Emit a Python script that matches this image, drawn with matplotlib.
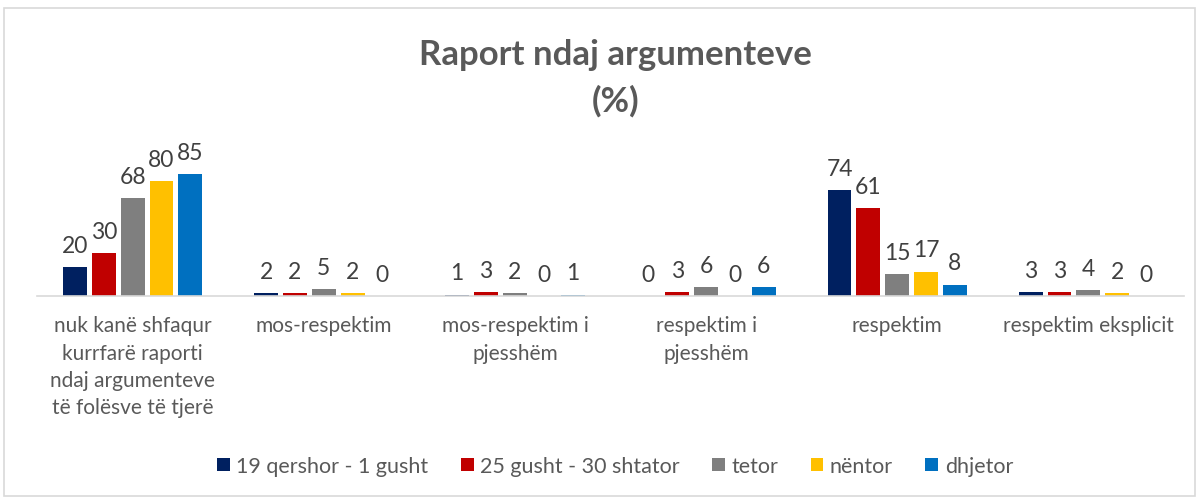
import matplotlib
matplotlib.use("Agg")
import matplotlib.pyplot as plt
import numpy as np
from matplotlib.patches import Rectangle

categories = ["nuk kanë shfaqur\nkurrfarë raporti\nndaj argumenteve\ntë folësve të tjerë",
              "mos-respektim", "mos-respektim i\npjesshëm", "respektim i\npjesshëm",
              "respektim", "respektim eksplicit"]
series_names = ["19 qershor - 1 gusht", "25 gusht - 30 shtator", "tetor", "nëntor", "dhjetor"]
s1 = [20, 2, 1, 0, 74, 3]
s2 = [30, 2, 3, 3, 61, 3]
s3 = [68, 5, 2, 6, 15, 4]
s4 = [80, 2, 0, 0, 17, 2]
s5 = [85, 0, 1, 6, 8, 0]
series = [s1, s2, s3, s4, s5]
colors = ["#002060", "#C00000", "#7F7F7F", "#FFC000", "#0070C0"]

plt.rcParams['font.family'] = ['Lato', 'DejaVu Sans']
W, H = 1199, 502
fig = plt.figure(figsize=(W/100, H/100), dpi=100)
fig.patches.append(Rectangle((4/W, 1-497/H), 1191/W, 488/H, transform=fig.transFigure,
                             fill=False, edgecolor="#D9D9D9", lw=1.2))

base_y = 297
ymax = 90
ppu = 1.435
top_y = base_y - ymax*ppu
ax = fig.add_axes([37/W, 1-base_y/H, (1184-37)/W, (base_y-top_y)/H])
x = np.arange(len(categories))
step = 0.151
bw = 0.125
for i, (vals, c, name) in enumerate(zip(series, colors, series_names)):
    off = (i-2)*step
    ax.bar(x+off, vals, width=bw, color=c, label=name)
    for xi, v in zip(x, vals):
        ax.annotate(str(v), (xi+off, v), xytext=(0, 8), textcoords='offset points',
                    ha='center', va='bottom', fontsize=16.5, color="#404040",
                    annotation_clip=False)

ax.set_xlim(-0.5, len(categories)-0.5)
ax.set_ylim(0, ymax)
for s in ["top", "right", "left"]:
    ax.spines[s].set_visible(False)
ax.spines["bottom"].set_color("#D9D9D9")
ax.spines["bottom"].set_linewidth(1.2)
ax.set_yticks([])
ax.set_xticks(x)
ax.set_xticklabels(categories, fontsize=15, color="#595959", linespacing=1.45, va='top')
ax.tick_params(axis='x', length=0, pad=14)

fig.text(0.513, 1-55/H, "Raport ndaj argumenteve", ha='center', va='center', fontsize=25,
         fontweight='bold', color="#595959")
fig.text(0.513, 1-101/H, "(%)", ha='center', va='center', fontsize=25,
         fontweight='bold', color="#595959")

leg = fig.legend(loc='center', bbox_to_anchor=(615/W, 1-467/H), ncol=5, frameon=False,
                 fontsize=15.5, handlelength=0.6, handleheight=0.6, handletextpad=0.3,
                 columnspacing=1.5)
for t in leg.get_texts():
    t.set_color("#595959")

fig.savefig("out.png", dpi=100)
